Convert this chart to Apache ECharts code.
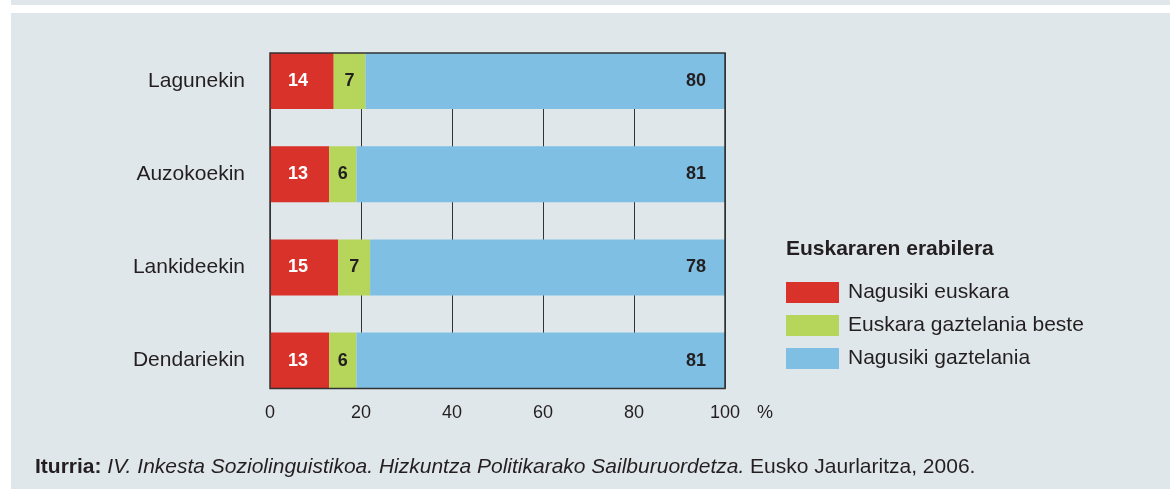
<!DOCTYPE html>
<html>
<head>
<meta charset="utf-8">
<script src="https://cdn.jsdelivr.net/npm/echarts@6/dist/echarts.min.js"></script>
<style>
  html, body { margin: 0; padding: 0; background: #ffffff; }
  #strip { position: absolute; left: 11px; top: 0; width: 1159px; height: 5px; background: #e0e7eb; }
  #panel { position: absolute; left: 11px; top: 13px; width: 1159px; height: 476px; background: #e0e7eb; }
  #chart { position: absolute; left: 0; top: 0; width: 1170px; height: 489px; }
</style>
</head>
<body>
<div id="strip"></div>
<div id="panel"></div>
<div id="chart"></div>
<script>
// Euskararen erabilera, by who the speaker is talking with (%)
const categories = ['Lagunekin', 'Auzokoekin', 'Lankideekin', 'Dendariekin'];
const nagusikiEuskara = [14, 13, 15, 13];
const euskaraGaztelania = [7, 6, 7, 6];
const nagusikiGaztelania = [80, 81, 78, 81];
const seriesNames = ['Nagusiki euskara', 'Euskara gaztelania beste', 'Nagusiki gaztelania'];
const xTicks = [0, 20, 40, 60, 80, 100];

const FONT = '"Liberation Sans", Arial, Helvetica, sans-serif';
const INK = '#231f20';
const BG = '#e0e7eb';
const COLORS = ['#d8322a', '#b6d65b', '#7fbfe3'];
const BAR_W = 56;

const chart = echarts.init(document.getElementById('chart'), null, { renderer: 'canvas' });

function barSeries(name, data, color, label) {
  return {
    name: name,
    type: 'bar',
    stack: 'total',
    data: data,
    barWidth: BAR_W,
    xAxisIndex: 0,
    itemStyle: { color: color },
    label: Object.assign({
      show: true,
      fontFamily: FONT,
      fontSize: 18,
      fontWeight: 'bold'
    }, label),
    emphasis: { disabled: true },
    z: 3
  };
}

const xRange = { type: 'value', min: xTicks[0], max: xTicks[xTicks.length - 1], interval: 20, position: 'bottom' };

chart.setOption({
  animation: false,
  textStyle: { fontFamily: FONT },
  title: [
    {
      text: 'Euskararen erabilera',
      left: 786, top: 239, padding: 0,
      textStyle: { fontFamily: FONT, fontSize: 21, fontWeight: 'bold', color: INK }
    },
    {
      text: '{b|Iturria:} {i|IV. Inkesta Soziolinguistikoa. Hizkuntza Politikarako Sailburuordetza.} {n|Eusko Jaurlaritza, 2006.}',
      left: 35, top: 457, padding: 0,
      textStyle: {
        fontFamily: FONT, fontSize: 21, color: INK, fontWeight: 'normal',
        rich: {
          b: { fontFamily: FONT, fontSize: 21, fontWeight: 'bold', color: INK },
          i: { fontFamily: FONT, fontSize: 21, fontWeight: 'normal', fontStyle: 'italic', color: INK },
          n: { fontFamily: FONT, fontSize: 21, fontWeight: 'normal', color: INK }
        }
      }
    }
  ],
  legend: {
    orient: 'vertical',
    left: 786, top: 282, padding: 0,
    icon: 'rect',
    itemWidth: 53, itemHeight: 21, itemGap: 12,
    selectedMode: false,
    data: seriesNames,
    textStyle: { fontFamily: FONT, fontSize: 21, color: INK, padding: [0, 0, 0, 4] }
  },
  grid: { left: 270, right: 445, top: 34.5, bottom: 81.8, containLabel: false },
  xAxis: [
    // scale and split lines for the bars
    Object.assign({}, xRange, {
      axisLine: { show: false },
      axisTick: { show: false },
      axisLabel: { show: false },
      splitLine: { show: true, lineStyle: { color: '#333333', width: 1 } }
    }),
    // tick labels and unit, kept above the frame fill
    Object.assign({}, xRange, {
      z: 20,
      offset: 0,
      name: '%',
      nameLocation: 'end',
      nameGap: 32,
      nameTextStyle: { fontFamily: FONT, fontSize: 18, color: INK, verticalAlign: 'top', lineHeight: 12 },
      axisLine: { show: false },
      axisTick: { show: false },
      axisLabel: { fontFamily: FONT, fontSize: 18, color: INK, margin: -3 },
      splitLine: { show: false }
    })
  ],
  yAxis: {
    type: 'category',
    data: categories,
    inverse: true,
    axisLine: { show: false },
    axisTick: { show: false },
    axisLabel: { fontFamily: FONT, fontSize: 21, color: INK, margin: 25 }
  },
  series: [
    barSeries(seriesNames[0], nagusikiEuskara, COLORS[0], { position: 'insideLeft', distance: 18, color: '#ffffff' }),
    barSeries(seriesNames[1], euskaraGaztelania, COLORS[1], { position: 'inside', color: INK }),
    barSeries(seriesNames[2], nagusikiGaztelania, COLORS[2], { position: 'insideRight', distance: 19, color: INK })
  ]
});

// Frame the plot: the box runs from the top edge of the first bar to the
// bottom edge of the last; the split lines only show in the gaps between bars.
function drawFrame() {
  const x0 = chart.convertToPixel({ xAxisIndex: 0 }, xTicks[0]);
  const x1 = chart.convertToPixel({ xAxisIndex: 0 }, xTicks[xTicks.length - 1]);
  const yFirst = chart.convertToPixel({ yAxisIndex: 0 }, categories[0]);
  const yLast = chart.convertToPixel({ yAxisIndex: 0 }, categories[categories.length - 1]);
  const top = yFirst - BAR_W / 2;
  const bottom = yLast + BAR_W / 2;
  const rect = chart.getModel().getComponent('grid').coordinateSystem.getRect();
  chart.setOption({
    graphic: [
      { type: 'rect', z: 1, silent: true,
        shape: { x: x0 - 1, y: rect.y - 1, width: x1 - x0 + 2, height: top - rect.y + 1 },
        style: { fill: BG } },
      { type: 'rect', z: 1, silent: true,
        shape: { x: x0 - 1, y: bottom, width: x1 - x0 + 2, height: rect.y + rect.height - bottom + 1 },
        style: { fill: BG } },
      { type: 'rect', z: 10, silent: true,
        shape: { x: x0, y: top, width: x1 - x0, height: bottom - top },
        style: { fill: null, stroke: '#333333', lineWidth: 1.5 } }
    ]
  });
}
drawFrame();
</script>
</body>
</html>
